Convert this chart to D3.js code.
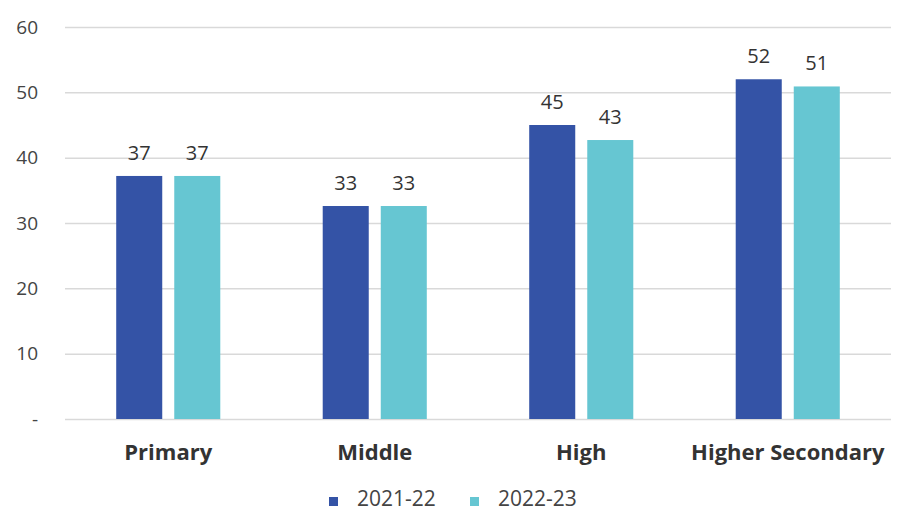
<!DOCTYPE html>
<html><head><meta charset="utf-8">
<script src="https://cdn.jsdelivr.net/npm/d3@7"></script>
<style>body{margin:0;background:#fff;}svg{display:block;font-family:"Open Sans",sans-serif;}</style>
</head><body>
<script>
const categories = ["Primary","Middle","High","Higher Secondary"];
const seriesNames = ["2021-22","2022-23"];
const values2122 = [37.2, 32.6, 45.0, 52.0];
const values2223 = [37.2, 32.6, 42.7, 50.9];
const yTicks = [0,10,20,30,40,50,60];
const colors = ["#3453a6","#66c6d2"];

const W=899,H=511;
const svg=d3.select("body").append("svg").attr("width",W).attr("height",H);
const m={left:65,right:8,top:27,bottom:92};
const x0=d3.scaleBand().domain(categories).range([m.left,W-m.right]).paddingInner(0.496).paddingOuter(0.248);
const x1=d3.scaleBand().domain(seriesNames).range([0,x0.bandwidth()]).paddingInner(0.207);
const y=d3.scaleLinear().domain([0,60]).range([H-m.bottom,m.top]);

const yAxis=d3.axisLeft(y).tickValues(yTicks).tickSize(-(W-m.left-m.right)).tickFormat(d=>d===0?"-":d);
const gy=svg.append("g").attr("transform",`translate(${m.left},0)`).call(yAxis);
gy.select(".domain").remove();
gy.selectAll(".tick line").attr("stroke","#d9d9d9").attr("stroke-width",1.5);
gy.selectAll(".tick text").attr("x",-27).attr("fill","#444").style("font-size","19px").style("font-family","'Open Sans',sans-serif");

const data=categories.map((c,i)=>({c,vals:[values2122[i],values2223[i]]}));
const g=svg.append("g").selectAll("g").data(data).join("g").attr("transform",d=>`translate(${x0(d.c)},0)`);
g.selectAll("rect").data(d=>d.vals.map((v,j)=>({s:seriesNames[j],v,j}))).join("rect")
 .attr("x",d=>x1(d.s)).attr("width",x1.bandwidth())
 .attr("y",d=>y(d.v)).attr("height",d=>y(0)-y(d.v)).attr("fill",d=>colors[d.j]);
g.selectAll("text").data(d=>d.vals.map((v,j)=>({s:seriesNames[j],v,j}))).join("text")
 .attr("x",d=>x1(d.s)+x1.bandwidth()/2).attr("y",d=>y(d.v)-16)
 .attr("text-anchor","middle").attr("fill","#333").style("font-size","20px")
 .text(d=>d3.format(".0f")(d.v));

const xAxis=d3.axisBottom(x0).tickSize(0).tickPadding(0);
const gx=svg.append("g").attr("transform",`translate(0,${y(0)})`).call(xAxis);
gx.select(".domain").remove();
gx.selectAll(".tick text").attr("y",41).attr("dy",0).attr("fill","#333").style("font-size","22px").style("font-weight","bold").style("font-family","'Open Sans',sans-serif");

const legX=[329,470];
const leg=svg.append("g").selectAll("g").data(seriesNames).join("g").attr("transform",(d,i)=>`translate(${legX[i]},506)`);
leg.append("rect").attr("x",0).attr("y",-9).attr("width",9).attr("height",9).attr("fill",(d,i)=>colors[i]);
leg.append("text").attr("x",28).attr("y",0).attr("fill","#444").style("font-size","21px").text(d=>d);
</script>
</body></html>
